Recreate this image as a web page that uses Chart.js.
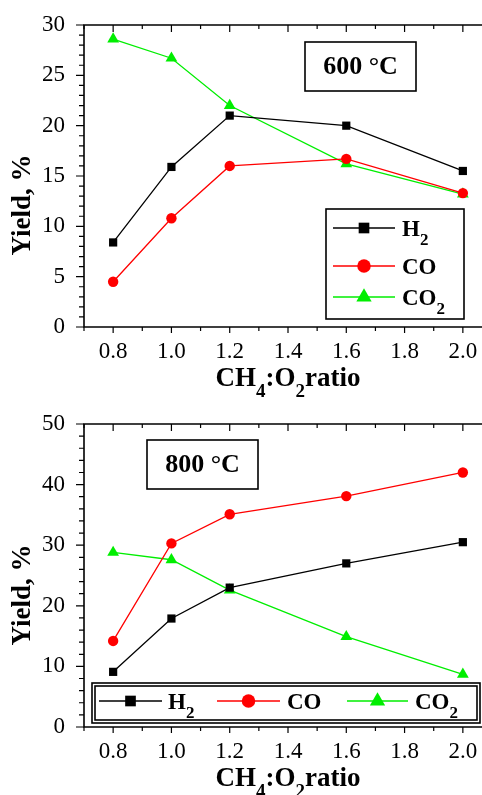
<!DOCTYPE html>
<html>
<head>
<meta charset="utf-8">
<script src="https://cdn.jsdelivr.net/npm/chart.js@4/dist/chart.umd.min.js"></script>
<style>
  html, body { margin: 0; padding: 0; background: #fff; overflow: hidden; width: 482px; height: 795px; }
  .panel { position: absolute; left: 0; width: 520px; }
  #top { top: 0; height: 400px; }
  #bot { top: 390px; height: 405px; }
</style>
</head>
<body>
<div class="panel" id="top"><canvas id="c600"></canvas></div>
<div class="panel" id="bot"><canvas id="c800"></canvas></div>
<script>
/* ── Data ── */
const RATIO   = [0.8, 1.0, 1.2, 1.6, 2.0];
const X_TICKS = [0.8, 1.0, 1.2, 1.4, 1.6, 1.8, 2.0];
const Y_TICKS_600 = [0, 5, 10, 15, 20, 25, 30];
const Y_TICKS_800 = [0, 10, 20, 30, 40, 50];
const SERIES  = ['H_2', 'CO', 'CO_2'];

const H2_600  = [8.4, 15.9, 21.0, 20.0, 15.5];
const CO_600  = [4.5, 10.8, 16.0, 16.7, 13.3];
const CO2_600 = [28.6, 26.7, 22.0, 16.2, 13.2];

const H2_800  = [9.1, 17.9, 23.0, 27.0, 30.5];
const CO_800  = [14.2, 30.3, 35.1, 38.1, 42.0];
const CO2_800 = [28.8, 27.6, 22.6, 14.9, 8.7];

const SERIF = '"Liberation Serif", "Times New Roman", serif';
const STYLES = [
  { color: '#000000', point: 'rect',     r: 5.8 },
  { color: '#ff0000', point: 'circle',   r: 5.2 },
  { color: '#00ee00', point: 'triangle', r: 6.8 },
];

/* ── Helpers ── */
// 'CH_4:O_2ratio' -> runs of normal / subscript text
function runs(str) {
  const out = [];
  str.split(/(_.)/).forEach(p => {
    if (!p) return;
    if (p[0] === '_') out.push([p[1], true]);
    else out.push([p, false]);
  });
  return out;
}

function richText(ctx, str, x, y, size, align) {
  const big = `bold ${size}px ${SERIF}`;
  const small = `bold ${Math.round(size * 0.72)}px ${SERIF}`;
  const parts = runs(str);
  let w = 0;
  parts.forEach(([t, s]) => { ctx.font = s ? small : big; w += ctx.measureText(t).width; });
  let cx = align === 'center' ? x - w / 2 : x;
  ctx.textAlign = 'left';
  ctx.textBaseline = 'alphabetic';
  parts.forEach(([t, s]) => {
    ctx.font = s ? small : big;
    ctx.fillText(t, cx, s ? y + size * 0.4 : y);
    cx += ctx.measureText(t).width;
  });
}

function marker(ctx, st, x, y, k) {
  const r = st.r * k;
  ctx.fillStyle = st.color;
  ctx.beginPath();
  if (st.point === 'rect') {
    const h = r / Math.SQRT2;
    ctx.rect(x - h, y - h, 2 * h, 2 * h);
  } else if (st.point === 'circle') {
    ctx.arc(x, y, r, 0, Math.PI * 2);
  } else {
    ctx.moveTo(x, y - r);
    ctx.lineTo(x + r * Math.sin(Math.PI * 2 / 3), y - r * Math.cos(Math.PI * 2 / 3));
    ctx.lineTo(x + r * Math.sin(Math.PI * 4 / 3), y - r * Math.cos(Math.PI * 4 / 3));
    ctx.closePath();
  }
  ctx.fill();
}

/* ── Frame: axes lines, major + minor ticks ── */
const frame = {
  id: 'frame',
  afterDraw(chart) {
    const o = chart.options.plugins.figure;
    const { ctx, chartArea: a, scales: { x, y } } = chart;
    ctx.save();
    ctx.strokeStyle = '#000';
    ctx.lineWidth = 1.6;
    ctx.beginPath();
    ctx.moveTo(a.right + 5, a.top); ctx.lineTo(a.left, a.top);
    ctx.lineTo(a.left, a.bottom); ctx.lineTo(a.right + 5, a.bottom);
    ctx.stroke();

    ctx.lineWidth = 1.2;
    ctx.beginPath();
    for (let i = 7; i <= 21; i++) {
      const px = x.getPixelForValue(i / 10);
      const major = i % 2 === 0;
      ctx.moveTo(px, a.bottom); ctx.lineTo(px, a.bottom + (major ? 6 : 4));
      ctx.moveTo(px, a.top);    ctx.lineTo(px, a.top + (major ? 7 : 4));
    }
    for (let v = 0; v <= y.max + 1e-6; v += o.yMinor) {
      const py = y.getPixelForValue(v);
      const major = Math.abs(v / o.yMajor - Math.round(v / o.yMajor)) < 1e-6;
      ctx.moveTo(a.left, py); ctx.lineTo(a.left - (major ? 8 : 5), py);
    }
    ctx.stroke();
    ctx.restore();
  },
};

/* ── Figure extras: tag box, legend, axis titles ── */
const figure = {
  id: 'figure',
  afterDraw(chart, args, o) {
    const { ctx, chartArea: a } = chart;
    ctx.save();
    ctx.fillStyle = '#000';
    ctx.strokeStyle = '#000';

    // temperature tag
    const [tx, ty, tw, th] = o.tagBox;
    ctx.lineWidth = 1.6;
    ctx.strokeRect(tx, ty, tw, th);
    ctx.font = `bold 26px ${SERIF}`;
    ctx.textAlign = 'center';
    ctx.textBaseline = 'middle';
    ctx.fillText(o.tag, tx + tw / 2, ty + th / 2 + 1);

    // legend
    const [lx, ly, lw, lh] = o.legendBox;
    ctx.lineWidth = 1.6;
    ctx.strokeRect(lx, ly, lw, lh);
    if (o.doubleBorder) ctx.strokeRect(lx + 3, ly + 3, lw - 6, lh - 6);
    o.legendItems.forEach((it, i) => {
      const st = STYLES[i];
      ctx.strokeStyle = st.color;
      ctx.lineWidth = 1.3;
      ctx.beginPath();
      ctx.moveTo(it.x0, it.y); ctx.lineTo(it.x1, it.y);
      ctx.stroke();
      marker(ctx, st, (it.x0 + it.x1) / 2, it.y, 1.3);
      ctx.fillStyle = '#000';
      richText(ctx, SERIES[i], it.tx, it.y + 8, 23, 'left');
    });

    // axis titles
    ctx.fillStyle = '#000';
    richText(ctx, 'CH_4:O_2ratio', (a.left + a.right) / 2, a.bottom + 59, 27, 'center');
    ctx.save();
    ctx.translate(23, o.yTitleY);
    ctx.rotate(-Math.PI / 2);
    ctx.font = `bold 27px ${SERIF}`;
    ctx.textAlign = 'center';
    ctx.textBaseline = 'middle';
    ctx.fillText('Yield, %', 0, 0);
    ctx.restore();
    ctx.restore();
  },
};

/* ── Chart builder ── */
function makeChart(id, series, yTicks, opts) {
  const datasets = series.map((vals, i) => ({
    label: SERIES[i],
    data: RATIO.map((x, j) => ({ x, y: vals[j] })),
    borderColor: STYLES[i].color,
    backgroundColor: STYLES[i].color,
    pointBackgroundColor: STYLES[i].color,
    pointBorderColor: STYLES[i].color,
    pointStyle: STYLES[i].point,
    pointRadius: STYLES[i].r,
    pointHoverRadius: STYLES[i].r,
    pointBorderWidth: 0,
    borderWidth: 1.3,
    tension: 0,
    clip: false,
  }));
  const tickFont = { family: SERIF, size: 23 };
  return new Chart(document.getElementById(id), {
    type: 'line',
    data: { datasets },
    options: {
      responsive: true,
      maintainAspectRatio: false,
      animation: false,
      events: [],
      layout: { padding: { top: opts.top, right: 28, left: 0, bottom: 0 } },
      plugins: { legend: { display: false }, tooltip: { enabled: false }, figure: opts },
      scales: {
        x: {
          type: 'linear', min: 0.7, max: 2.1,
          afterBuildTicks: s => { s.ticks = X_TICKS.map(value => ({ value })); },
          afterFit: s => { s.height = opts.xh; },
          ticks: { font: tickFont, color: '#000', padding: 3, autoSkip: false, maxRotation: 0,
                   callback: v => v.toFixed(1) },
          grid: { display: false },
          border: { display: false },
        },
        y: {
          type: 'linear', min: 0, max: yTicks[yTicks.length - 1],
          afterBuildTicks: s => { s.ticks = yTicks.map(value => ({ value })); },
          afterFit: s => { s.width = 84; },
          ticks: { font: tickFont, color: '#000', padding: 11, callback: v => String(v) },
          grid: { display: false },
          border: { display: false },
        },
      },
    },
    plugins: [frame, figure],
  });
}

/* ── Init ── */
makeChart('c600', [H2_600, CO_600, CO2_600], Y_TICKS_600, {
  top: 25, xh: 73, yMajor: 5, yMinor: 1,
  tag: '600 °C', tagBox: [305, 42, 111, 49],
  legendBox: [326, 209, 138, 110], doubleBorder: false,
  legendItems: [
    { x0: 333, x1: 395, tx: 402, y: 228 },
    { x0: 333, x1: 395, tx: 402, y: 266 },
    { x0: 333, x1: 395, tx: 402, y: 297 },
  ],
  yTitleY: 205,
});

makeChart('c800', [H2_800, CO_800, CO2_800], Y_TICKS_800, {
  top: 34, xh: 68, yMajor: 10, yMinor: 2,
  tag: '800 °C', tagBox: [147, 50, 111, 49],
  legendBox: [92, 293, 388, 40], doubleBorder: true,
  legendItems: [
    { x0: 99,  x1: 162, tx: 168, y: 311 },
    { x0: 217, x1: 280, tx: 287, y: 311 },
    { x0: 347, x1: 408, tx: 415, y: 311 },
  ],
  yTitleY: 205,
});
</script>
</body>
</html>
